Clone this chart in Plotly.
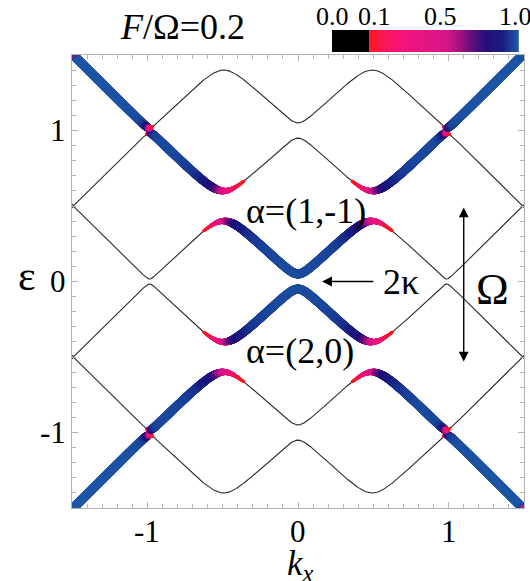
import numpy as np
import plotly.graph_objects as go

# ---- model values -------------------------------------------------------
# Floquet replica orders n of the two Dirac branches eps = s*k + n*Omega
ORDERS = [-4, -3, -2, -1, 0, 1, 2, 3, 4]
BRANCHES = [1, -1]
OMEGA = 1.0
# coupling between |+,n> and |-,m>, indexed by |m - n|
COUPLING = [0.05, 0.10, 0.017, 0.0]
K_MIN, K_MAX = -1.5, 1.5
EPS_MIN, EPS_MAX = -1.5, 1.5
W_THRESHOLD = 0.1

# axis tick values and their labels
K_TICKS = [-1, 0, 1]
K_TICK_TEXT = ["-1", "0", "1"]
EPS_TICKS = [-1, 0, 1]
EPS_TICK_TEXT = ["-1", "0", "1"]

# colour legend: weight labels and their place along the bar
BAR_LABELS = ["0.0", "0.1", "0.5", "1.0"]
BAR_WEIGHTS = [0.0, 0.1, 0.5, 1.0]
BAR_POS = [0.0, 0.2, 0.58, 1.0]

SERIF = "Liberation Serif"

# colourscale along the bar position
COLORSCALE = [
    [0.0, "#000000"], [0.2, "#000000"],
    [0.2, "#ff1a1a"], [0.29, "#f81560"], [0.40, "#f0147e"],
    [0.61, "#d8158a"], [0.685, "#a5107f"], [0.756, "#5a0f7e"],
    [0.827, "#240f78"], [0.916, "#1a1e82"], [1.0, "#1f5aa8"],
]

# plot-area geometry in pixels (used to place text in paper units)
L, R, T, B = 72, 6, 5, 73
W_PX, H_PX = 530, 581
PLOT_W, PLOT_H = W_PX - L - R, H_PX - T - B


def px_to_paper(px, py):
    return (px - L) / PLOT_W, (H_PX - B - py) / PLOT_H


# ---- Floquet bands ------------------------------------------------------
k = -1.52 + 0.0005 + 0.001 * np.arange(3040)
basis = [(s, n) for n in ORDERS for s in BRANCHES]
N = len(basis)
H = np.zeros((len(k), N, N))
for i, (s, n) in enumerate(basis):
    H[:, i, i] = s * k + n * OMEGA
for i, (si, ni) in enumerate(basis):
    for j, (sj, nj) in enumerate(basis):
        if si == 1 and sj == -1:
            d = abs(nj - ni)
            if d < len(COUPLING):
                H[:, i, j] = COUPLING[d]
                H[:, j, i] = COUPLING[d]
evals, evecs = np.linalg.eigh(H)
zero_mask = np.array([n == 0 for (s, n) in basis])
weights = (np.abs(evecs) ** 2)[:, zero_mask, :].sum(axis=1)

fig = go.Figure()

for b in range(N):
    e = evals[:, b]
    if e.max() < EPS_MIN - 0.2 or e.min() > EPS_MAX + 0.2:
        continue
    fig.add_trace(go.Scatter(x=k, y=e, mode="lines",
                             line=dict(color="#2b2b2b", width=1.1),
                             hoverinfo="skip"))

kx, ey, wv = [], [], []
for b in range(N):
    m = weights[:, b] >= W_THRESHOLD
    kx.append(k[m]); ey.append(evals[m, b]); wv.append(weights[m, b])
kx = np.concatenate(kx); ey = np.concatenate(ey); wv = np.concatenate(wv)
pv = np.interp(wv, BAR_WEIGHTS, BAR_POS)

fig.add_trace(go.Scatter(
    x=kx, y=ey, mode="markers",
    marker=dict(color=pv, colorscale=COLORSCALE, cmin=0, cmax=1,
                size=9.0 * np.sqrt(wv), line=dict(width=0)),
    hoverinfo="skip"))

# colour bar drawn as a one-row heatmap
p_grid = np.linspace(0, 1, 400)
fig.add_trace(go.Heatmap(x=p_grid, y=[0], z=[p_grid], colorscale=COLORSCALE,
                         zmin=0, zmax=1, showscale=False,
                         xaxis="x2", yaxis="y2", hoverinfo="skip"))

axis_common = dict(showline=True, linecolor="#b4b4b4", linewidth=1,
                   mirror="ticks", ticks="inside", ticklen=6,
                   tickcolor="#b4b4b4", showgrid=False, zeroline=False,
                   showticklabels=False,
                   minor=dict(tickmode="linear", tick0=0, dtick=0.1,
                              ticks="inside", ticklen=4,
                              tickcolor="#b4b4b4", showgrid=False))

bx0, _ = px_to_paper(332, 0)
bx1, _ = px_to_paper(519, 0)
_, by0 = px_to_paper(0, 52)
_, by1 = px_to_paper(0, 30)

fig.update_layout(
    width=W_PX, height=H_PX,
    margin=dict(l=L, r=R, t=T, b=B),
    plot_bgcolor="white", paper_bgcolor="white",
    showlegend=False,
    xaxis=dict(range=[K_MIN, K_MAX], domain=[0, 1], tickvals=K_TICKS,
               **axis_common),
    yaxis=dict(range=[EPS_MIN, EPS_MAX], domain=[0, px_to_paper(0, 55)[1]],
               tickvals=EPS_TICKS, **axis_common),
    xaxis2=dict(domain=[bx0, bx1], range=[0, 1], anchor="y2", visible=False),
    yaxis2=dict(domain=[by0, by1], range=[-0.5, 0.5], anchor="x2",
                visible=False),
)


def font(size):
    return dict(family=SERIF, size=size, color="black")


def text_px(px, py, s, size, xanchor="center"):
    x, y = px_to_paper(px, py)
    fig.add_annotation(x=x, y=y, xref="paper", yref="paper", text=s,
                       showarrow=False, xanchor=xanchor, yanchor="middle",
                       font=font(size))


def text(x, y, s, size):
    fig.add_annotation(x=x, y=y, xref="x", yref="y", text=s, showarrow=False,
                       xanchor="center", yanchor="middle", font=font(size))


# tick labels
_, ty = px_to_paper(0, 531)
for v, lab in zip(K_TICKS, K_TICK_TEXT):
    fig.add_annotation(x=v, y=ty, xref="x", yref="paper", text=lab,
                       showarrow=False, xanchor="center", yanchor="middle",
                       font=font(31))
tx, _ = px_to_paper(68, 0)
for v, lab in zip(EPS_TICKS, EPS_TICK_TEXT):
    fig.add_annotation(x=tx, y=v, xref="paper", yref="y", text=lab,
                       showarrow=False, xanchor="right", yanchor="middle",
                       font=font(31))

text_px(182, 27, "<i>F</i>/Ω=0.2", 36)
text_px(27, 276, "ε", 42)
text_px(300, 565, "<i>k</i><sub><i>x</i></sub>", 35)

# weight labels above the colour bar
for lab, cx in zip(BAR_LABELS, [332, 374, 440, 515]):
    text_px(cx, 17, lab, 26)

text(0.05, 0.47, "α=(1,-1)", 36)
text(0.01, -0.46, "α=(2,0)", 36)
text(0.685, 0.0, "2κ", 36)
text(1.29, -0.05, "Ω", 44)

# arrow marking the gap at k = 0
fig.add_annotation(x=0.16, y=0.0, ax=0.51, ay=0.0, xref="x", yref="y",
                   axref="x", ayref="y", text="", showarrow=True,
                   arrowhead=2, arrowsize=1.4, arrowwidth=1.4,
                   arrowcolor="black")
# double arrow spanning one driving quantum
fig.add_annotation(x=1.1, y=0.49, ax=1.1, ay=-0.54, xref="x", yref="y",
                   axref="x", ayref="y", text="", showarrow=True,
                   arrowhead=2, arrowside="end+start", arrowsize=1.4,
                   arrowwidth=1.4, arrowcolor="black")

fig.write_html("out.html")
